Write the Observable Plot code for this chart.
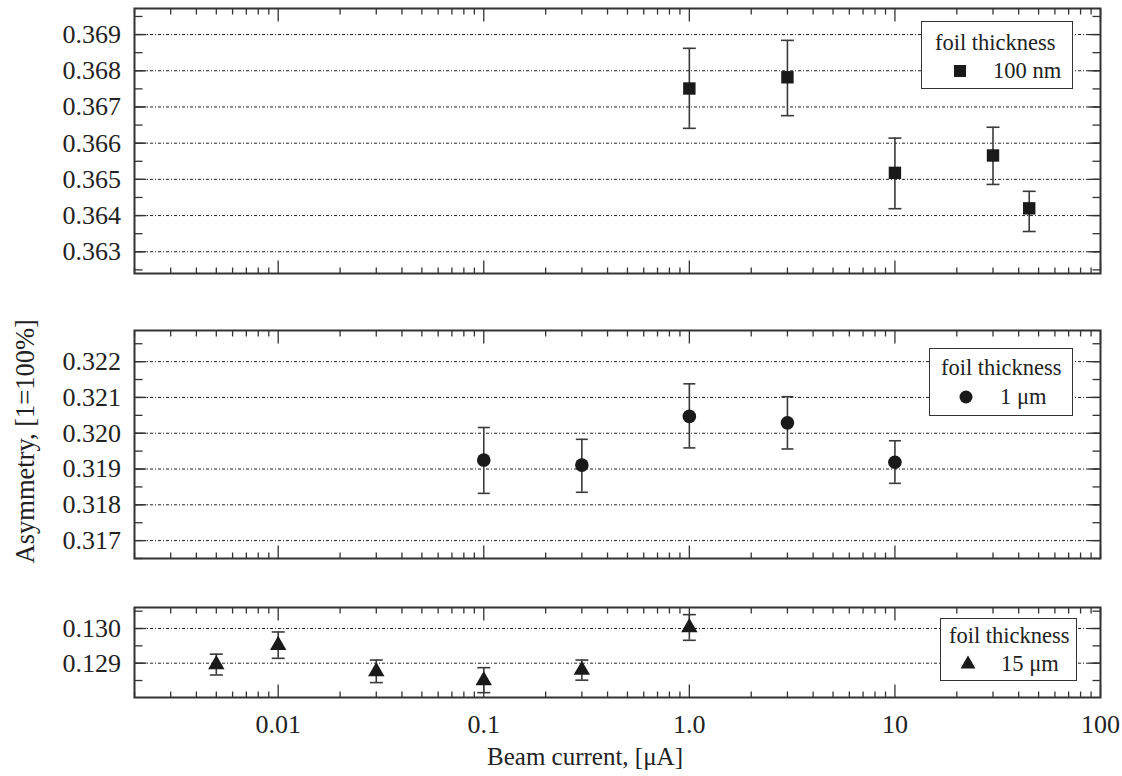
<!DOCTYPE html>
<html>
<head>
<meta charset="utf-8">
<script src="https://cdn.jsdelivr.net/npm/d3@7"></script>
<script src="https://cdn.jsdelivr.net/npm/@observablehq/plot@0.6"></script>
<style>
  html, body { margin: 0; padding: 0; background: #fff; }
  #wrap { position: relative; width: 1122px; height: 776px; background: #fff; overflow: hidden;
          font-family: "Liberation Serif", "DejaVu Serif", serif; color: #222; }
  #wrap svg.plot { position: absolute; left: 0; }
  .legend { position: absolute; border: 1.5px solid #333; background: #fff; box-sizing: border-box; }
  .legend span { position: absolute; font-size: 22.5px; line-height: 22.5px; white-space: nowrap; }
  .legend svg { position: absolute; }
  .title { position: absolute; font-size: 25px; line-height: 25px; white-space: nowrap; }
</style>
</head>
<body>
<div id="wrap"></div>
<script>
// ---------------- data ----------------
const xDomain = [0.002, 100];
const xMajorTicks = [0.01, 0.1, 1, 10, 100];
const xTickLabels = ["0.01", "0.1", "1.0", "10", "100"];

// 100 nm foil
const nmCurrent = [1, 3, 10, 30, 45];
const nmAsym    = [0.36751, 0.36782, 0.36518, 0.36566, 0.36420];
const nmLow     = [0.36641, 0.36676, 0.36419, 0.36486, 0.36356];
const nmHigh    = [0.36862, 0.36884, 0.36614, 0.36644, 0.36467];
const nmYDomain = [0.3624, 0.36972];
const nmYTicks  = [0.363, 0.364, 0.365, 0.366, 0.367, 0.368, 0.369];

// 1 µm foil
const umCurrent = [0.1, 0.3, 1, 3, 10];
const umAsym    = [0.31925, 0.31911, 0.32047, 0.32029, 0.31919];
const umLow     = [0.31832, 0.31835, 0.31959, 0.31956, 0.31860];
const umHigh    = [0.32016, 0.31983, 0.32138, 0.32102, 0.31979];
const umYDomain = [0.3165, 0.32287];
const umYTicks  = [0.317, 0.318, 0.319, 0.320, 0.321, 0.322];

// 15 µm foil
const u15Current = [0.005, 0.01, 0.03, 0.1, 0.3, 1];
const u15Asym    = [0.12896, 0.12952, 0.12876, 0.12850, 0.12880, 0.13003];
const u15Low     = [0.12866, 0.12914, 0.12844, 0.12815, 0.12851, 0.12966];
const u15High    = [0.12926, 0.12990, 0.12909, 0.12887, 0.12909, 0.13040];
const u15YDomain = [0.12801, 0.130606];
const u15YTicks  = [0.129, 0.130];

const legendTitle = "foil thickness";
const seriesLabels = ["100 nm", "1 μm", "15 μm"];
const xTitle = "Beam current, [μA]";
const yTitle = "Asymmetry, [1=100%]";

// ---------------- helpers ----------------
const INK = "#333";
const xMinorTicks = d3.range(-3, 2).flatMap(e => d3.range(2, 10).map(m => +(m * Math.pow(10, e)).toPrecision(3)))
  .filter(v => v >= xDomain[0] && v <= xDomain[1]);

function minorY(domain) {
  const out = [];
  const lo = Math.ceil(domain[0] / 0.0005 - 1e-9), hi = Math.floor(domain[1] / 0.0005 + 1e-9);
  for (let i = lo; i <= hi; i++) out.push(+(i * 0.0005).toFixed(4));
  return out;
}
const seg = (dx, dy) => ({ draw(ctx) { ctx.moveTo(0, 0); ctx.lineTo(dx, dy); } });
const cap = (w) => ({ draw(ctx) { ctx.moveTo(-w / 2, 0); ctx.lineTo(w / 2, 0); } });

function panel({current, asym, low, high, symbol, r, capW, yDomain, yTicks, height, marginTop, marginBottom, showX, top}) {
  const data = current.map((c, i) => ({c, a: asym[i], lo: low[i], hi: high[i]}));
  const yMinor = minorY(yDomain);
  const tickStyle = {stroke: INK, strokeWidth: 1.3, fill: "none"};
  const marks = [
    Plot.gridY(yTicks, {stroke: "#222", strokeOpacity: 1, strokeWidth: 1, strokeDasharray: "3,2,1,2"}),
    // inward tick marks on all four sides
    Plot.dot(xMinorTicks, {x: d => d, frameAnchor: "bottom", symbol: seg(0, -6), ...tickStyle}),
    Plot.dot(xMajorTicks, {x: d => d, frameAnchor: "bottom", symbol: seg(0, -13), ...tickStyle}),
    Plot.dot(xMinorTicks, {x: d => d, frameAnchor: "top", symbol: seg(0, 6), ...tickStyle}),
    Plot.dot(xMajorTicks, {x: d => d, frameAnchor: "top", symbol: seg(0, 13), ...tickStyle}),
    Plot.dot(yMinor, {y: d => d, frameAnchor: "left", symbol: seg(8, 0), ...tickStyle}),
    Plot.dot(yTicks, {y: d => d, frameAnchor: "left", symbol: seg(12, 0), ...tickStyle}),
    Plot.dot(yMinor, {y: d => d, frameAnchor: "right", symbol: seg(-8, 0), ...tickStyle}),
    Plot.dot(yTicks, {y: d => d, frameAnchor: "right", symbol: seg(-12, 0), ...tickStyle}),
    Plot.axisY(yTicks, {anchor: "left", tickSize: 0, tickPadding: 13.5, tickFormat: d3.format(".3f"), label: null, fill: "#222", fontSize: 26}),
    // error bars
    Plot.ruleX(data, {x: "c", y1: "lo", y2: "hi", stroke: "#3a3a3a", strokeWidth: 1.6}),
    Plot.dot(data, {x: "c", y: "lo", symbol: cap(capW), stroke: "#3a3a3a", strokeWidth: 1.6, fill: "none"}),
    Plot.dot(data, {x: "c", y: "hi", symbol: cap(capW), stroke: "#3a3a3a", strokeWidth: 1.6, fill: "none"}),
    Plot.dot(data, {x: "c", y: "a", symbol, r, fill: "#1a1a1a", stroke: "none"}),
    Plot.frame({stroke: INK, strokeWidth: 2})
  ];
  if (showX) {
    marks.push(Plot.axisX(xMajorTicks, {anchor: "bottom", tickSize: 0, tickPadding: 17, label: null, fill: "#222", fontSize: 26,
      tickFormat: d => xTickLabels[xMajorTicks.indexOf(d)]}));
  }
  const svg = Plot.plot({
    width: 1122, height, marginLeft: 134, marginRight: 22, marginTop, marginBottom,
    x: {type: "log", domain: xDomain, axis: null},
    y: {type: "linear", domain: yDomain, axis: null},
    style: {fontFamily: "Liberation Serif, DejaVu Serif, serif", fontSize: "26px", background: "transparent", overflow: "visible"},
    marks
  });
  svg.classList.add("plot");
  svg.style.top = top + "px";
  return svg;
}

const wrap = document.getElementById("wrap");
wrap.appendChild(panel({current: nmCurrent, asym: nmAsym, low: nmLow, high: nmHigh, symbol: "square", r: 7,
  capW: 13, yDomain: nmYDomain, yTicks: nmYTicks, height: 290, marginTop: 8, marginBottom: 17, showX: false, top: 0}));
wrap.appendChild(panel({current: umCurrent, asym: umAsym, low: umLow, high: umHigh, symbol: "circle", r: 6.8,
  capW: 12, yDomain: umYDomain, yTicks: umYTicks, height: 300, marginTop: 40, marginBottom: 32, showX: false, top: 290}));
wrap.appendChild(panel({current: u15Current, asym: u15Asym, low: u15Low, high: u15High, symbol: "triangle", r: 6.1,
  capW: 13, yDomain: u15YDomain, yTicks: u15YTicks, height: 186, marginTop: 17, marginBottom: 79, showX: true, top: 590}));

// ---------------- legends ----------------
function legendBox({left, top, width, height, titleX, titleY, symX, symY, labelX, labelY, shape, label}) {
  const box = document.createElement("div");
  box.className = "legend";
  Object.assign(box.style, {left: left + "px", top: top + "px", width: width + "px", height: height + "px"});
  const t = document.createElement("span");
  t.textContent = legendTitle;
  Object.assign(t.style, {left: (titleX - left) + "px", top: (titleY - top - 11.5) + "px"});
  box.appendChild(t);
  const ns = "http://www.w3.org/2000/svg";
  const s = document.createElementNS(ns, "svg");
  s.setAttribute("width", 20); s.setAttribute("height", 20);
  Object.assign(s.style, {left: (symX - left - 10) + "px", top: (symY - top - 10) + "px"});
  let el;
  if (shape === "square") { el = document.createElementNS(ns, "rect"); el.setAttribute("x", 4); el.setAttribute("y", 4); el.setAttribute("width", 12); el.setAttribute("height", 12); }
  else if (shape === "circle") { el = document.createElementNS(ns, "circle"); el.setAttribute("cx", 10); el.setAttribute("cy", 10); el.setAttribute("r", 6.5); }
  else { el = document.createElementNS(ns, "path"); el.setAttribute("d", "M10,2.5L17.5,15.5L2.5,15.5Z"); }
  el.setAttribute("fill", "#1a1a1a");
  s.appendChild(el);
  box.appendChild(s);
  const l = document.createElement("span");
  l.textContent = label;
  Object.assign(l.style, {left: (labelX - left) + "px", top: (labelY - top - 11.5) + "px"});
  box.appendChild(l);
  wrap.appendChild(box);
}
legendBox({left: 921, top: 21, width: 152, height: 68, titleX: 934, titleY: 42, symX: 959, symY: 70, labelX: 992, labelY: 70, shape: "square", label: seriesLabels[0]});
legendBox({left: 929, top: 348, width: 144, height: 68, titleX: 940, titleY: 367, symX: 965, symY: 396, labelX: 999, labelY: 396, shape: "circle", label: seriesLabels[1]});
legendBox({left: 940, top: 618, width: 137, height: 63, titleX: 948, titleY: 635, symX: 967, symY: 662, labelX: 1000, labelY: 663, shape: "triangle", label: seriesLabels[2]});

// ---------------- axis titles ----------------
const xt = document.createElement("div");
xt.className = "title";
xt.textContent = xTitle;
Object.assign(xt.style, {left: "385px", width: "400px", textAlign: "center", top: "744px"});
wrap.appendChild(xt);

const yt = document.createElement("div");
yt.className = "title";
yt.textContent = yTitle;
Object.assign(yt.style, {left: (25 - 175) + "px", width: "350px", textAlign: "center", top: (441 - 13) + "px",
  fontSize: "26.5px", lineHeight: "26.5px", transform: "rotate(-90deg)"});
wrap.appendChild(yt);
</script>
</body>
</html>
